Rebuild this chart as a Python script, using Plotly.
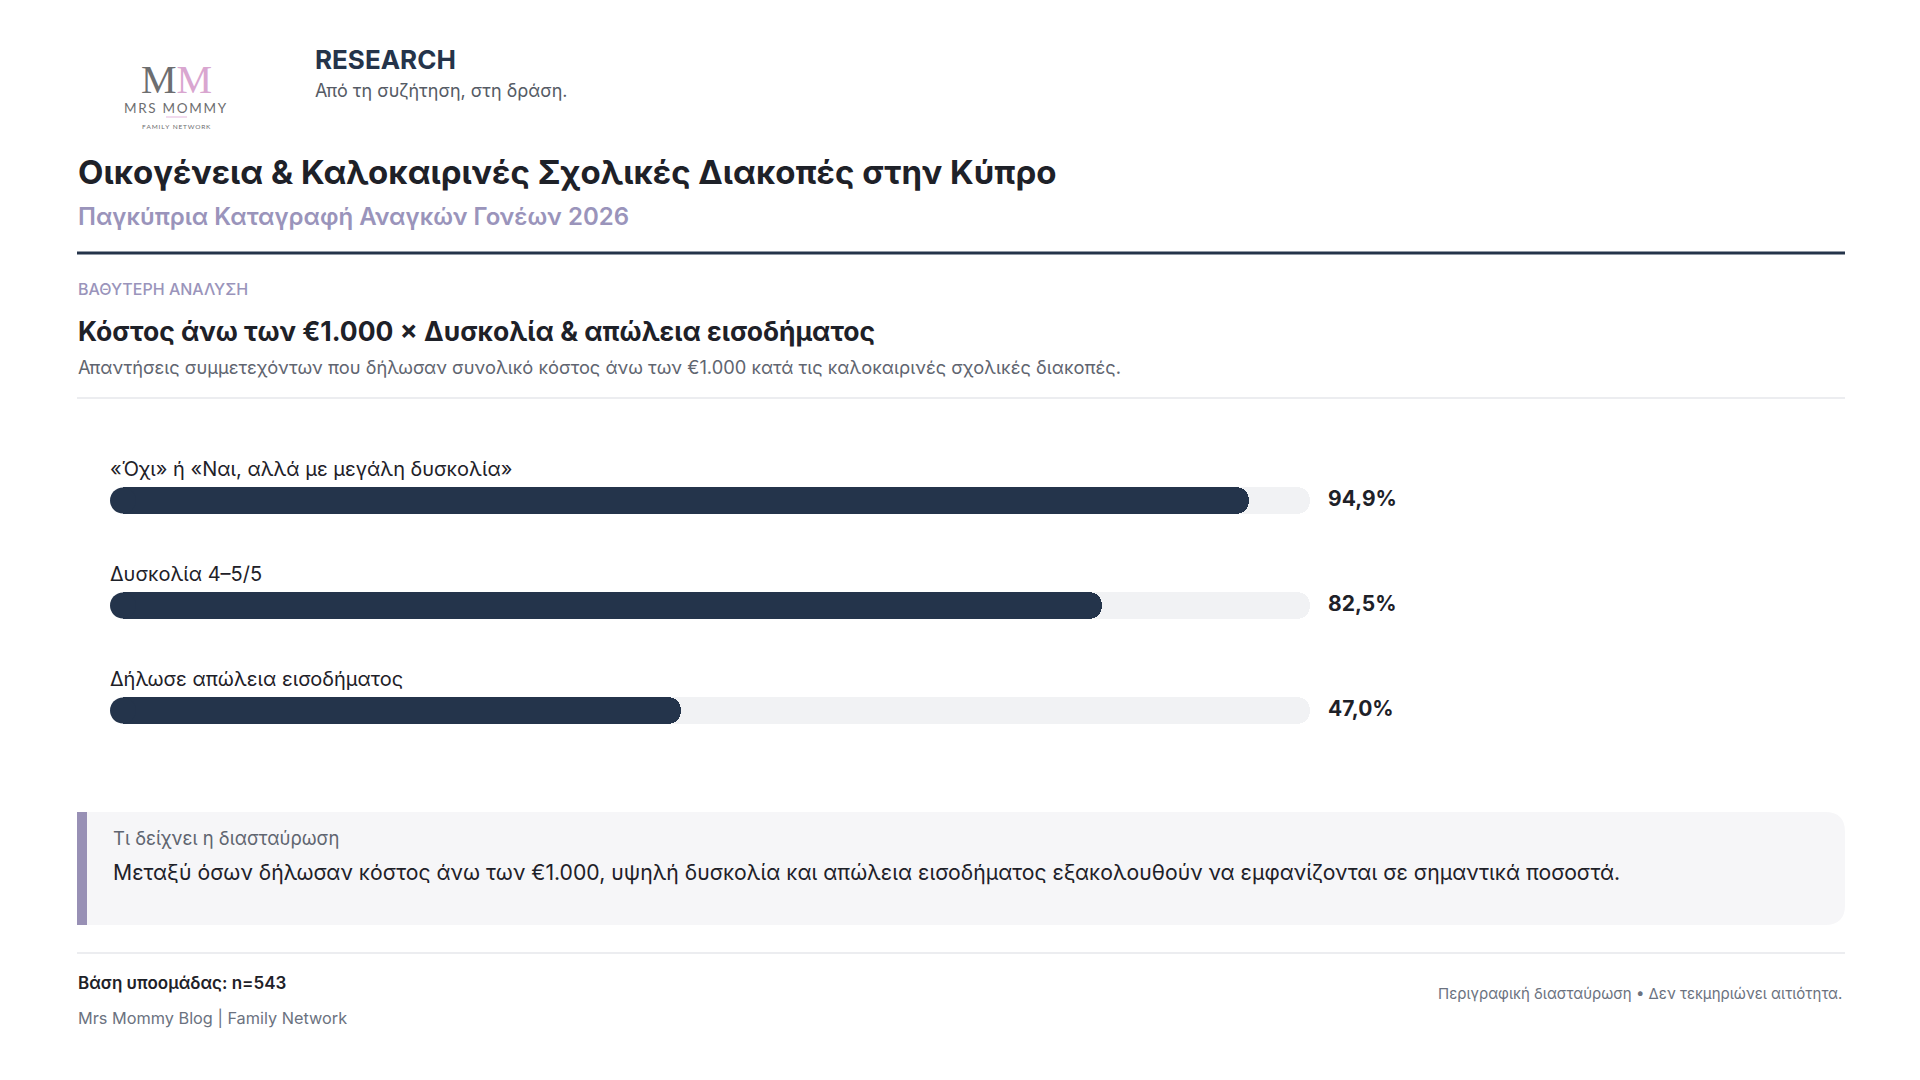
import plotly.graph_objects as go

# data
categories = ["«Όχι» ή «Ναι, αλλά με μεγάλη δυσκολία»",
              "Δυσκολία 4–5/5",
              "Δήλωσε απώλεια εισοδήματος"]
values = [94.9, 82.5, 47.0]
track = [100, 100, 100]

W, H = 1920, 1080
OFF = 8  # the page body margin shifts everything by 8px
NAVY = "#24344b"
DARK = "#1e2128"
LAV = "#9a94bb"
GRAY = "#5f6570"
FONT = "Inter"
LX = 76  # left edge of the text column


def px(x):
    return (x - OFF) / W


def py(y):
    return 1 - (y - OFF) / H


fig = go.Figure()

# grey track on x, value bar on an overlaid x2 so both get rounded tips
fig.add_trace(go.Bar(
    y=categories, x=track, orientation="h", width=0.25,
    marker=dict(color="#f1f2f4", cornerradius=13, line_width=0),
    hoverinfo="skip", showlegend=False))
fig.add_trace(go.Bar(
    y=categories, x=values, orientation="h", width=0.25, xaxis="x2",
    marker=dict(color=NAVY, cornerradius=13, line_width=0),
    showlegend=False))
# rounded start of the bars
fig.add_trace(go.Scatter(
    y=categories, x=[0] * len(categories), mode="markers", xaxis="x2",
    marker=dict(color=NAVY, size=26, line_width=0),
    cliponaxis=False, hoverinfo="skip", showlegend=False))

ann = []

# bar labels and values
for c, v in zip(categories, values):
    ann.append(dict(x=0, y=c, xref="x", yref="y", text=c, showarrow=False,
                    xanchor="left", yanchor="middle", xshift=-15, yshift=32,
                    font=dict(family=FONT, size=20, color=DARK)))
    ann.append(dict(x=100, y=c, xref="x", yref="y",
                    text=f"{v:.1f}".replace(".", ",") + "%", showarrow=False,
                    xanchor="left", yanchor="middle", xshift=16, yshift=2,
                    font=dict(family=FONT, size=21, color=DARK, weight=700)))


def txt(x, y, text, size, color, weight=400, anchor="left", family=FONT):
    ann.append(dict(x=px(x), y=py(y), xref="paper", yref="paper", text=text,
                    showarrow=False, xanchor=anchor, yanchor="middle",
                    font=dict(family=family, size=size, color=color, weight=weight)))


# logo
txt(176, 80, "<span style='color:#6d6e70'>M</span><span style='color:#d9a6d0'>M</span>",
    40, "#6d6e70", anchor="center", family="Liberation Serif")
txt(175, 108, "\u2009".join("MRS MOMMY"), 13.5, "#6d6e70", anchor="center", family="Lato")
txt(176, 126, "\u2009".join("FAMILY NETWORK"), 6.5, "#6d6e70", anchor="center", family="Lato")

# header
txt(313, 59, "RESEARCH", 26, "#25344a", 700)
txt(313, 91, "Από τη συζήτηση, στη δράση.", 18, "#555b65")
txt(LX, 172, "Οικογένεια & Καλοκαιρινές Σχολικές Διακοπές στην Κύπρο", 33, DARK, 700)
txt(LX, 216, "Παγκύπρια Καταγραφή Αναγκών Γονέων 2026", 24, LAV, 600)

# section
txt(LX, 289, "ΒΑΘΥΤΕΡΗ ΑΝΑΛΥΣΗ", 16, LAV, 500)
txt(LX, 331, "Κόστος άνω των €1.000 × Δυσκολία & απώλεια εισοδήματος", 26.5, DARK, 700)
txt(LX, 367, "Απαντήσεις συμμετεχόντων που δήλωσαν συνολικό κόστος άνω των €1.000 "
             "κατά τις καλοκαιρινές σχολικές διακοπές.", 18.3, GRAY)

# callout
txt(111, 838, "Τι δείχνει η διασταύρωση", 18.5, GRAY)
txt(111, 872, "Μεταξύ όσων δήλωσαν κόστος άνω των €1.000, υψηλή δυσκολία και απώλεια "
              "εισοδήματος εξακολουθούν να εμφανίζονται σε σημαντικά ποσοστά.", 21.2, DARK)

# footer
txt(LX, 983, "Βάση υποομάδας: n=543", 17, DARK, 600)
txt(LX, 1018, "Mrs Mommy Blog | Family Network", 16.3, "#6b7280")
txt(1844, 993, "Περιγραφική διασταύρωση • Δεν τεκμηριώνει αιτιότητα.", 15, "#6b7280",
    anchor="right")

# rounded callout box path
x0, x1, y0, y1, r = 77, 1845, 812, 925, 20
box = (f"M {px(x0)},{py(y0)} L {px(x1 - r)},{py(y0)} "
       f"Q {px(x1)},{py(y0)} {px(x1)},{py(y0 + r)} "
       f"L {px(x1)},{py(y1 - r)} Q {px(x1)},{py(y1)} {px(x1 - r)},{py(y1)} "
       f"L {px(x0)},{py(y1)} Z")

shapes = [
    dict(type="line", xref="paper", yref="paper", x0=px(166), x1=px(187),
         y0=py(117), y1=py(117), line=dict(color="#e3b7dc", width=1)),
    dict(type="line", xref="paper", yref="paper", x0=px(77), x1=px(1845),
         y0=py(253), y1=py(253), line=dict(color="#25344a", width=3)),
    dict(type="line", xref="paper", yref="paper", x0=px(77), x1=px(1845),
         y0=py(398), y1=py(398), line=dict(color="#e6e7eb", width=1.5)),
    dict(type="path", xref="paper", yref="paper", path=box,
         fillcolor="#f6f6f8", line_width=0, layer="below"),
    dict(type="rect", xref="paper", yref="paper", x0=px(77), x1=px(87),
         y0=py(812), y1=py(925), fillcolor="#9890b5", line_width=0),
    dict(type="line", xref="paper", yref="paper", x0=px(77), x1=px(1845),
         y0=py(953), y1=py(953), line=dict(color="#e6e7eb", width=1.5)),
]

xdom = [px(123), px(1310)]
fig.update_layout(
    width=W, height=H,
    margin=dict(l=0, r=0, t=0, b=0),
    paper_bgcolor="white", plot_bgcolor="rgba(0,0,0,0)",
    barmode="overlay", bargap=0,
    xaxis=dict(domain=xdom, range=[0, 100], visible=False, fixedrange=True),
    xaxis2=dict(domain=xdom, range=[0, 100], visible=False, fixedrange=True,
                overlaying="x"),
    yaxis=dict(domain=[py(763), py(448)], range=[2.5, -0.5], visible=False,
               fixedrange=True, type="category"),
    annotations=ann,
    shapes=shapes,
    font=dict(family=FONT),
)

fig.write_html("out.html")
